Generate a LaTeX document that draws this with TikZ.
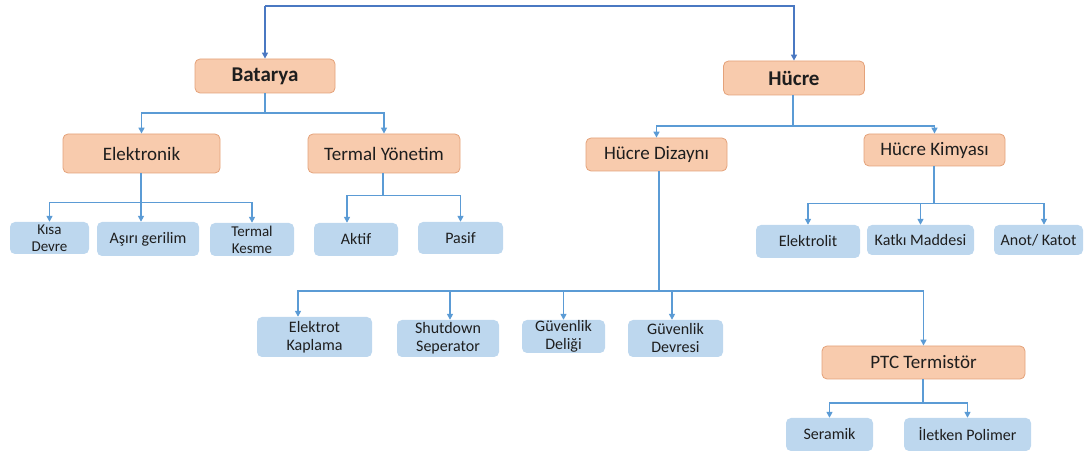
\documentclass[tikz,border=0pt]{standalone}
\usepackage{fontspec}
\setmainfont{Carlito}
\usetikzlibrary{arrows.meta}
\definecolor{orfill}{HTML}{F8CBAD}
\definecolor{ordraw}{HTML}{E4A27A}
\definecolor{blfill}{HTML}{BDD7EE}
\definecolor{lnblue}{HTML}{5B9BD5}
\definecolor{topblue}{HTML}{4A78C2}
\definecolor{txt}{HTML}{1E1E1E}
\tikzset{
  obox/.style={rectangle, rounded corners=5pt, fill=orfill, draw=ordraw, line width=0.8pt, text=txt, align=center, inner sep=0pt},
  bbox/.style={rectangle, rounded corners=5pt, fill=blfill, draw=none, text=txt, align=center, inner sep=0pt},
  big/.style={font=\fontsize{21}{24}\selectfont\bfseries},
  mid/.style={font=\fontsize{19}{22}\selectfont},
  sml/.style={font=\fontsize{16}{18}\selectfont},
  tiny/.style={font=\fontsize{15}{17}\selectfont},
  ln/.style={draw=lnblue, line width=1.6pt},
  arr/.style={ln, -{Triangle[length=6pt,width=6pt]}},
  toparr/.style={draw=topblue, line width=1.8pt, -{Triangle[length=6pt,width=6pt]}},
  wh/.style={minimum width=#1},
}
\begin{document}
\begin{tikzpicture}[x=1pt,y=-1pt]
\useasboundingbox (0,0) rectangle (1088,454);
% level 1
\node[obox,big,minimum width=140pt,minimum height=34pt] (bat) at (265,76) {Batarya};
\node[obox,big,minimum width=141pt,minimum height=34pt] (huc) at (794,78) {Hücre};
% level 2
\node[obox,mid,minimum width=157pt,minimum height=39pt] (elk) at (141.5,153.5) {Elektronik};
\node[obox,mid,minimum width=152pt,minimum height=39pt] (tey) at (384,153.5) {Termal Yönetim};
\node[obox,mid,minimum width=141pt,minimum height=33pt] (hdz) at (656.5,154.5) {Hücre Dizaynı};
\node[obox,mid,minimum width=141pt,minimum height=32pt] (hkm) at (934.5,150) {Hücre Kimyası};
% leaves Elektronik
\node[bbox,tiny,minimum width=79pt,minimum height=32pt] (kd) at (49.5,238) {Kısa\\Devre};
\node[bbox,sml,minimum width=102pt,minimum height=34pt] (ag) at (148,239) {Aşırı gerilim};
\node[bbox,tiny,minimum width=84pt,minimum height=33pt] (tk) at (252,239.5) {Termal\\Kesme};
% leaves Termal
\node[bbox,sml,minimum width=84pt,minimum height=33pt] (akt) at (356,239.5) {Aktif};
\node[bbox,sml,minimum width=85pt,minimum height=32pt] (pas) at (460.5,238) {Pasif};
% leaves Kimya
\node[bbox,sml,minimum width=104pt,minimum height=33pt] (elt) at (808,241.5) {Elektrolit};
\node[bbox,sml,minimum width=107pt,minimum height=30pt] (kat) at (920.5,240) {Katkı Maddesi};
\node[bbox,sml,minimum width=89pt,minimum height=30pt] (ano) at (1038.5,240) {Anot/ Katot};
% leaves Dizayn
\node[bbox,sml,minimum width=115pt,minimum height=40pt] (ek) at (314.5,337) {Elektrot\\Kaplama};
\node[bbox,sml,minimum width=102pt,minimum height=37pt] (ss) at (448,338.5) {Shutdown\\Seperator};
\node[bbox,sml,minimum width=83pt,minimum height=33pt] (gd) at (563.5,336.5) {Güvenlik\\Deliği};
\node[bbox,sml,minimum width=95pt,minimum height=37pt] (gdv) at (675.5,338.5) {Güvenlik\\Devresi};
\node[obox,mid,minimum width=203pt,minimum height=33pt] (ptc) at (923.5,362.5) {PTC Termistör};
\node[bbox,sml,minimum width=87pt,minimum height=33pt] (ser) at (829.5,434.5) {Seramik};
\node[bbox,sml,minimum width=127pt,minimum height=33pt] (ilp) at (967.5,434.5) {İletken Polimer};
% top connectors
\coordinate (top) at (265,6);
\draw[toparr] (top) -- (bat.north);
\draw[toparr] (top) -| (huc.north);
% Batarya
\coordinate (b1) at (265,113);
\draw[ln] (bat.south) -- (b1);
\draw[arr] (b1) -| (elk.north);
\draw[arr] (b1) -| (tey.north);
% Hücre
\coordinate (h1) at (793,126);
\draw[ln] (huc.south -| h1) -- (h1);
\draw[arr] (h1) -| (hdz.north);
\draw[arr] (h1) -| (hkm.north);
% Elektronik
\coordinate (e1) at (141,202.7);
\draw[ln] (elk.south -| e1) -- (e1);
\draw[arr] (e1) -| (kd.north);
\draw[arr] (e1) -- (e1 |- ag.north);
\draw[arr] (e1) -| (tk.north);
% Termal
\coordinate (t1) at (383,195.7);
\draw[ln] (tey.south -| t1) -- (t1);
\draw[arr] (t1) -| ([xshift=-9pt]akt.north);
\draw[arr] (t1) -| (pas.north);
% Kimya
\coordinate (k1) at (934,203.4);
\draw[ln] (hkm.south -| k1) -- (k1);
\draw[arr] (k1) -| (elt.north);
\draw[arr] (k1) -| (kat.north);
\draw[arr] (k1) -| ([xshift=5.5pt]ano.north);
% Dizayn
\coordinate (d1) at (658.7,291);
\draw[ln] (hdz.south -| d1) -- (d1);
\draw[arr] (d1) -| ([xshift=-16.5pt]ek.north);
\draw[arr] (d1) -| ([xshift=2pt]ss.north);
\draw[arr] (d1) -| (gd.north);
\draw[arr] (d1) -| ([xshift=-3.5pt]gdv.north);
\draw[arr] (d1) -| (ptc.north);
% PTC
\coordinate (p1) at (922.7,403);
\draw[ln] (ptc.south -| p1) -- (p1);
\draw[arr] (p1) -| (ser.north);
\draw[arr] (p1) -| (ilp.north);
\end{tikzpicture}
\end{document}
